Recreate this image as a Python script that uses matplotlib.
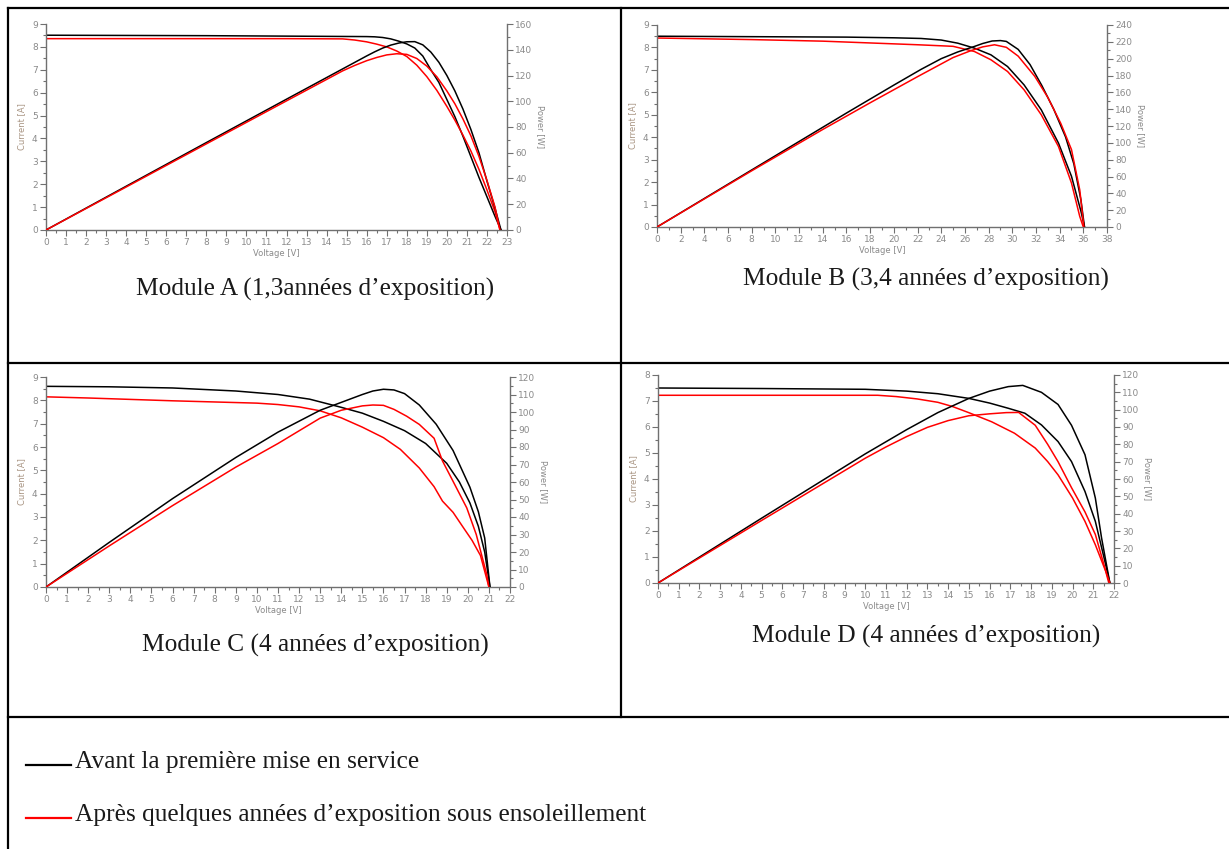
import matplotlib.pyplot as plt
from matplotlib.lines import Line2D
from matplotlib.ticker import MultipleLocator

W, H = 1229, 849

# ---- Module A ----
a_iv_black_v = [0, 4, 8, 12, 16, 16.4, 16.8, 17.2, 17.6, 18, 18.4, 18.8, 19.2, 19.6, 20, 20.4, 20.8, 21.2, 21.6, 22, 22.4, 22.7]
a_iv_black_i = [8.51, 8.50, 8.49, 8.47, 8.45, 8.44, 8.41, 8.35, 8.25, 8.13, 7.95, 7.6, 7.0, 6.45, 5.7, 4.95, 4.1, 3.2, 2.3, 1.45, 0.6, 0]
a_pv_black_v = [0, 4, 8, 12, 16, 16.4, 16.8, 17.2, 17.6, 18, 18.4, 18.8, 19.2, 19.6, 20, 20.4, 20.8, 21.2, 21.6, 22, 22.4, 22.7]
a_pv_black_p = [0, 34, 67.9, 101.6, 135.2, 138.4, 141.3, 143.6, 145.2, 146.2, 146.3, 143.8, 138.2, 130.3, 120, 108, 94, 78, 60, 38, 17, 0]
a_iv_red_v = [0, 4, 8, 12, 14.8, 15.4, 16, 16.5, 17, 17.5, 18, 18.5, 19, 19.5, 20, 20.4, 20.8, 21.2, 21.6, 22, 22.4, 22.65]
a_iv_red_i = [8.36, 8.36, 8.36, 8.36, 8.35, 8.3, 8.22, 8.12, 8.0, 7.82, 7.58, 7.2, 6.7, 6.1, 5.4, 4.8, 4.15, 3.45, 2.65, 1.75, 0.8, 0]
a_pv_red_v = [0, 4, 8, 12, 14.8, 15.4, 16, 16.5, 17, 17.5, 18, 18.5, 19, 19.5, 20, 20.4, 20.8, 21.2, 21.6, 22, 22.4, 22.65]
a_pv_red_p = [0, 33.4, 66.9, 100.3, 123.6, 127.8, 131.5, 134, 136, 136.9, 136.4, 133.2, 127.3, 119, 108, 98, 86.3, 73.1, 57.2, 38.5, 17.9, 0]

# ---- Module B ----
b_iv_black_v = [0, 8, 16, 20, 22.3, 24, 25.4, 26.8, 28.2, 29.6, 31, 32.45, 33.9, 35, 35.8, 36.1]
b_iv_black_i = [8.5, 8.48, 8.46, 8.43, 8.4, 8.33, 8.19, 7.97, 7.67, 7.15, 6.33, 5.22, 3.74, 2.26, 0.7, 0]
b_pv_black_v = [0, 8, 16, 20, 22.3, 24, 25.4, 26.8, 27.5, 28.3, 29, 29.5, 30.5, 31.5, 32.5, 33.5, 34.5, 35.2, 35.8, 36.1]
b_pv_black_p = [0, 67.8, 135.4, 168.6, 187.3, 200, 208, 214.5, 218, 221, 221.5, 220.5, 211, 193, 168, 140, 107, 75, 32, 0]
b_iv_red_v = [0, 8, 14, 18, 22, 25, 26.8, 28.2, 29.6, 31, 32.45, 33.9, 35, 35.7, 36.0]
b_iv_red_i = [8.42, 8.35, 8.28, 8.2, 8.12, 8.05, 7.82, 7.45, 6.93, 6.11, 5.0, 3.59, 1.96, 0.47, 0]
b_pv_red_v = [0, 8, 14, 18, 22, 25, 26.5, 27.5, 28.5, 29.5, 30.5, 31.9, 33, 34.1, 35, 35.7, 36.05]
b_pv_red_p = [0, 66.8, 115.9, 147.6, 178.6, 201.3, 209.5, 214, 216.5, 213.5, 203, 179, 154, 123, 92, 44, 0]

# ---- Module C ----
c_iv_black_v = [0, 3, 6, 9, 11, 12.5, 14, 15, 16, 17, 18, 19, 19.6, 20.1, 20.5, 20.8, 21.05]
c_iv_black_i = [8.6, 8.58, 8.53, 8.4, 8.25, 8.05, 7.7, 7.45, 7.1, 6.7, 6.15, 5.3, 4.5, 3.6, 2.6, 1.5, 0]
c_pv_black_v = [0, 3, 6, 9, 11, 13, 14, 15, 15.5, 16, 16.5, 17, 17.7, 18.5, 19.3, 20.1, 20.5, 20.8, 21.05]
c_pv_black_p = [0, 25.5, 50.5, 74, 88.5, 101, 105.5, 110, 112, 113, 112.6, 110.5, 104, 93, 78, 57, 43, 28, 0]
c_iv_red_v = [0, 2, 4, 6, 8, 10, 11, 12, 13, 14, 15, 16, 16.8, 17.7, 18.4, 18.8, 19.3, 19.8, 20.2, 20.6, 21.0]
c_iv_red_i = [8.15, 8.1, 8.04, 7.98, 7.93, 7.88, 7.82, 7.72, 7.55, 7.25, 6.85, 6.4, 5.9, 5.1, 4.3, 3.68, 3.2, 2.53, 2.0, 1.35, 0]
c_pv_red_v = [0, 3, 6, 9, 11, 13, 14, 15, 15.5, 16, 16.5, 17.1, 17.7, 18.4, 18.8, 19.3, 19.95, 20.4, 20.9, 21.0]
c_pv_red_p = [0, 23.5, 46.5, 68.5, 82, 96.5, 101, 103.5, 104, 103.8, 101.5, 97.6, 92.9, 85, 72, 60.4, 45.2, 30, 7, 0]

# ---- Module D ----
d_iv_black_v = [0, 5, 10, 12, 13.5, 15, 16, 16.9, 17.7, 18.5, 19.3, 19.95, 20.6, 21.1, 21.6, 21.8]
d_iv_black_i = [7.5, 7.48, 7.45, 7.38, 7.28, 7.1, 6.92, 6.72, 6.53, 6.08, 5.44, 4.67, 3.52, 2.37, 0.7, 0]
d_pv_black_v = [0, 5, 10, 12, 13.5, 15, 16, 16.9, 17.6, 18.5, 19.3, 19.95, 20.6, 21.1, 21.4, 21.8]
d_pv_black_p = [0, 37.4, 74.5, 88.5, 98.3, 106.5, 110.7, 113.3, 114, 110, 103, 91, 74, 49, 26, 0]
d_iv_red_v = [0, 5, 10.6, 11.5, 12.5, 13.5, 14.2, 15, 16.1, 17.2, 18.2, 18.8, 19.3, 20, 20.6, 21.1, 21.6, 21.75]
d_iv_red_i = [7.22, 7.22, 7.22, 7.17, 7.08, 6.95, 6.79, 6.55, 6.2, 5.76, 5.19, 4.67, 4.16, 3.27, 2.37, 1.47, 0.45, 0]
d_pv_red_v = [0, 5, 10, 11, 12, 13, 14, 15, 16, 16.8, 17.4, 18.2, 18.8, 19.3, 19.95, 20.6, 21.1, 21.6, 21.8]
d_pv_red_p = [0, 36.1, 72, 78.5, 84.5, 89.8, 93.7, 96.5, 97.6, 98.3, 98.4, 91, 80, 70, 55, 41, 28, 7, 0]

captions = ["Module A (1,3années d\u2019exposition)", "Module B (3,4 années d\u2019exposition)",
            "Module C (4 années d\u2019exposition)", "Module D (4 années d\u2019exposition)"]
legend_labels = ["Avant la première mise en service",
                 "Après quelques années d\u2019exposition sous ensoleillement"]

SPINE = '#707070'
TXT = '#8a8a8a'
SERIF = 'Liberation Serif'


def panel(box, xmax, xstep, ymax, pmax, pstep, iv, pv, caption, cap_xy):
    l, t, r, b = box
    ax = fig.add_axes([l / W, 1 - b / H, (r - l) / W, (b - t) / H])
    for v, i, col in iv:
        ax.plot(v, i, color=col, lw=1.1)
    ax.set_xlim(0, xmax)
    ax.set_ylim(0, ymax)
    ax.xaxis.set_major_locator(MultipleLocator(xstep))
    ax.xaxis.set_minor_locator(MultipleLocator(xstep / 2))
    ax.yaxis.set_major_locator(MultipleLocator(1))
    ax.yaxis.set_minor_locator(MultipleLocator(0.5))
    ax.set_xlabel('Voltage [V]', fontsize=6, color=TXT, labelpad=1)
    ax.set_ylabel('Current [A]', fontsize=6, color='#a89482', labelpad=4)

    ax2 = ax.twinx()
    for v, p, col in pv:
        ax2.plot(v, p, color=col, lw=1.1)
    ax2.set_ylim(0, pmax)
    ax2.yaxis.set_major_locator(MultipleLocator(pstep))
    ax2.yaxis.set_minor_locator(MultipleLocator(pstep / 2))
    ax2.set_ylabel('Power [W]', fontsize=6, color=TXT, rotation=270, labelpad=9)

    for a in (ax, ax2):
        a.spines['top'].set_visible(False)
        for s in ('left', 'right', 'bottom'):
            a.spines[s].set_color(SPINE)
            a.spines[s].set_linewidth(1.0)
        a.tick_params(which='major', length=4, width=0.8, color=SPINE, labelsize=6.5,
                      labelcolor=TXT, pad=2)
        a.tick_params(which='minor', length=2.5, width=0.8, color=SPINE)
    ax.spines['right'].set_visible(False)
    ax2.spines['left'].set_visible(False)
    ax2.spines['bottom'].set_visible(False)

    fig.text(cap_xy[0] / W, 1 - cap_xy[1] / H, caption, ha='center', va='center',
             fontsize=18.3, family=SERIF, color='#1a1a1a')


fig = plt.figure(figsize=(W / 100, H / 100), dpi=100)

panel((46, 24, 507, 230), 23, 1, 9, 160, 20,
      [(a_iv_black_v, a_iv_black_i, 'black'), (a_iv_red_v, a_iv_red_i, 'red')],
      [(a_pv_black_v, a_pv_black_p, 'black'), (a_pv_red_v, a_pv_red_p, 'red')],
      captions[0], (315, 289))
panel((657, 25, 1107, 227), 38, 2, 9, 240, 20,
      [(b_iv_black_v, b_iv_black_i, 'black'), (b_iv_red_v, b_iv_red_i, 'red')],
      [(b_pv_black_v, b_pv_black_p, 'black'), (b_pv_red_v, b_pv_red_p, 'red')],
      captions[1], (926, 279))
panel((46, 377, 510, 587), 22, 1, 9, 120, 10,
      [(c_iv_black_v, c_iv_black_i, 'black'), (c_iv_red_v, c_iv_red_i, 'red')],
      [(c_pv_black_v, c_pv_black_p, 'black'), (c_pv_red_v, c_pv_red_p, 'red')],
      captions[2], (315, 645))
panel((658, 375, 1114, 583), 22, 1, 8, 120, 10,
      [(d_iv_black_v, d_iv_black_i, 'black'), (d_iv_red_v, d_iv_red_i, 'red')],
      [(d_pv_black_v, d_pv_black_p, 'black'), (d_pv_red_v, d_pv_red_p, 'red')],
      captions[3], (926, 636))


# table grid
def hline(y, x0=8, x1=W):
    fig.add_artist(Line2D([x0 / W, x1 / W], [1 - y / H, 1 - y / H], color='black', lw=1.6))


def vline(x, y0, y1):
    fig.add_artist(Line2D([x / W, x / W], [1 - y0 / H, 1 - y1 / H], color='black', lw=1.6))


hline(8)
hline(363)
hline(717)
vline(8, 8, H)
vline(621, 8, 717)

# legend
for k, (col, y) in enumerate([('black', 765), ('red', 818)]):
    fig.add_artist(Line2D([26 / W, 71 / W], [1 - y / H, 1 - y / H], color=col, lw=1.6))
    fig.text(75 / W, 1 - (y - 3) / H, legend_labels[k], ha='left', va='center',
             fontsize=18.3, family=SERIF, color='#1a1a1a')

fig.savefig('out.png', dpi=100)
